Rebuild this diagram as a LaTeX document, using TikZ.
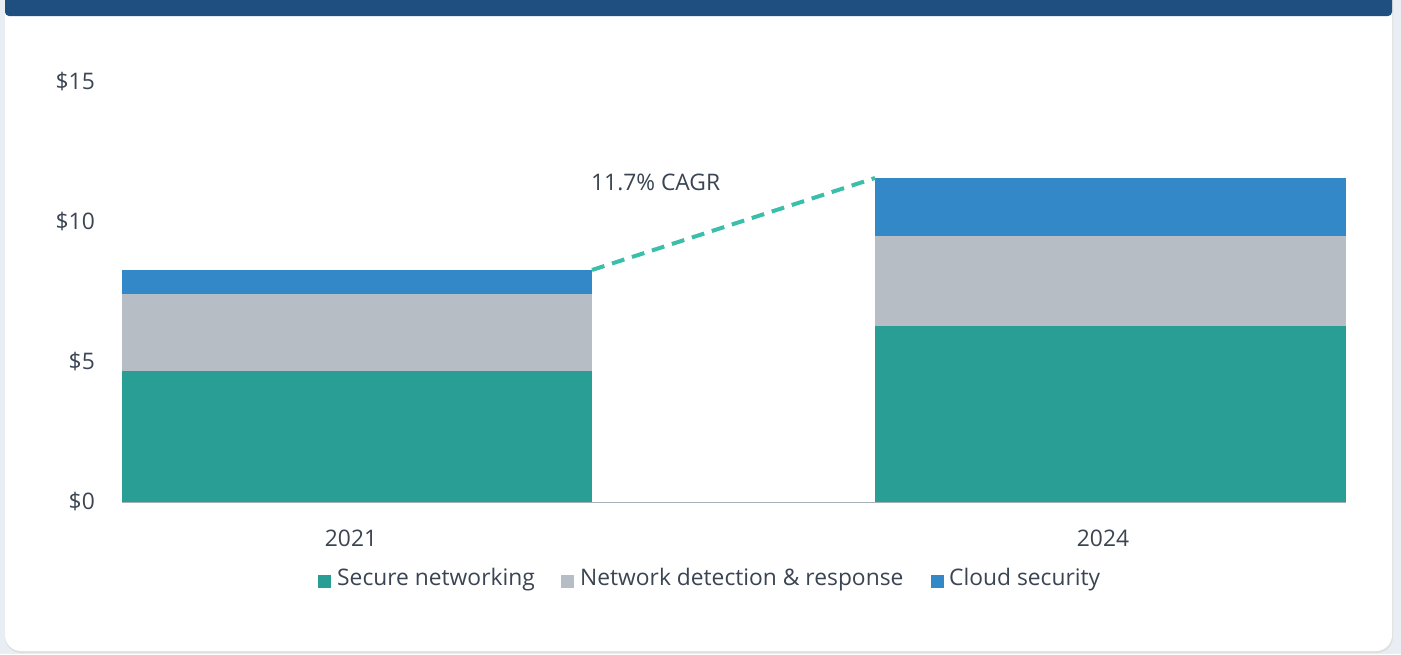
\documentclass[tikz,border=0pt]{standalone}
\usepackage{fontspec}
\setmainfont{Open Sans}
\definecolor{pagebg}{HTML}{E9EDF4}
\definecolor{topbar}{HTML}{1F4E80}
\definecolor{sgreen}{HTML}{289E94}
\definecolor{sgray}{HTML}{B6BDC4}
\definecolor{sblue}{HTML}{3388C8}
\definecolor{dashc}{HTML}{3CBFAA}
\definecolor{txt}{HTML}{3A4452}
\definecolor{axisc}{HTML}{A8AEB5}
\begin{document}
\begin{tikzpicture}[x=1pt,y=-1pt,
  lbl/.style={font=\fontsize{22.8}{26}\selectfont, text=txt, inner sep=0pt},
  ylbl/.style={lbl, anchor=east},
  legsq/.style={minimum size=13pt, inner sep=0pt, draw=none}]
\useasboundingbox (0,0) rectangle (1401,654);
\clip (0,0) rectangle (1401,654);
\fill[pagebg] (0,0) rectangle (1401,654);
% card
\fill[black!12, rounded corners=16pt] (5,-30) rectangle (1393,653);
\fill[white, rounded corners=16pt] (5,-30) rectangle (1392,651);
% top bar
\fill[topbar, rounded corners=4pt] (5,-30) rectangle (1392,16);
% y labels
\node[ylbl] (y15) at (95,82) {\$15};
\node[ylbl] (y10) at (95,222) {\$10};
\node[ylbl] (y5) at (95,362) {\$5};
\node[ylbl] (y0) at (95,502) {\$0};
% bars 2021
\fill[sgreen] (122,502) rectangle (592,371);
\fill[sgray] (122,371) rectangle (592,294);
\fill[sblue] (122,294) rectangle (592,270);
% bars 2024
\fill[sgreen] (875,502) rectangle (1346,326);
\fill[sgray] (875,326) rectangle (1346,236);
\fill[sblue] (875,236) rectangle (1346,178);
% axis
\coordinate (axL) at (122,502.5);
\coordinate (axR) at (1346,502.5);
\draw[axisc, line width=1.5pt] (axL) -- (axR);
% category labels
\node[lbl] (c2021) at (351,538) {2021};
\node[lbl] (c2024) at (1103,538) {2024};
% CAGR
\coordinate (top21) at (592,270);
\coordinate (top24) at (875,178);
\draw[dashc, line width=4pt, dash pattern=on 13pt off 8pt] (top21) -- (top24);
\node[lbl, anchor=west] (cagr) at (591,182) {11.7\% CAGR};
% legend
\node[legsq, fill=sgreen] (lg1) at (324,581) {};
\node[lbl, anchor=west] (lt1) at (337,580) {Secure networking};
\node[legsq, fill=sgray] (lg2) at (567,581) {};
\node[lbl, anchor=west] (lt2) at (580,580) {Network detection \& response};
\node[legsq, fill=sblue] (lg3) at (937,581) {};
\node[lbl, anchor=west] (lt3) at (949,580) {Cloud security};
\end{tikzpicture}
\end{document}
